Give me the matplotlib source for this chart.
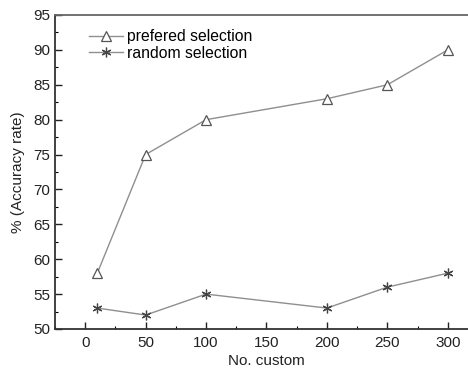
import matplotlib
matplotlib.use("Agg")
import matplotlib.pyplot as plt
from matplotlib.ticker import MultipleLocator

x_vals = [10, 50, 100, 200, 250, 300]
prefered = [58, 75, 80, 83, 85, 90]
random_sel = [53, 52, 55, 53, 56, 58]
x_ticks = [0, 50, 100, 150, 200, 250, 300]
y_ticks = [50, 55, 60, 65, 70, 75, 80, 85, 90, 95]

plt.rcParams['font.family'] = ['Liberation Sans', 'DejaVu Sans']

fig = plt.figure(figsize=(4.68, 3.68), dpi=100)
ax = fig.add_axes([55/468, 1-329/368, (478-55)/468, (329-15)/368])

ax.plot(x_vals, prefered, color='#8f8f8f', lw=1.0, marker='^', markersize=7,
        markerfacecolor='white', markeredgecolor='#555555', markeredgewidth=0.9,
        label='prefered selection')
ax.plot(x_vals, random_sel, color='#8f8f8f', lw=1.0, marker=(6, 2, 0), markersize=7,
        markerfacecolor='#444444', markeredgecolor='#444444', markeredgewidth=0.9,
        label='random selection')

ax.set_xlim(-25, 325)
ax.set_ylim(50, 95)
ax.set_xticks(x_ticks)
ax.set_yticks(y_ticks)
ax.xaxis.set_minor_locator(MultipleLocator(25))
ax.yaxis.set_minor_locator(MultipleLocator(2.5))
ax.tick_params(which='major', direction='in', length=5, width=1.0, labelsize=11, colors='#222222')
ax.tick_params(which='minor', direction='in', length=2.5, width=0.8)
ax.tick_params(axis='x', pad=5)
for s in ['left', 'bottom', 'top']:
    ax.spines[s].set_linewidth(1.3)
    ax.spines[s].set_color('#333333')
ax.spines['top'].set_color('#666666')
ax.spines['right'].set_visible(False)

ax.set_xlabel('No. custom', fontsize=11, color='#222222', labelpad=3)
ax.set_ylabel('% (Accuracy rate)', fontsize=11, color='#222222', labelpad=6)

leg = ax.legend(loc='upper left', bbox_to_anchor=(0.065, 0.975), frameon=False,
                fontsize=11.3, handlelength=2.2, handletextpad=0.25, labelspacing=0.1,
                borderaxespad=0)

fig.savefig('out.png', dpi=100)
